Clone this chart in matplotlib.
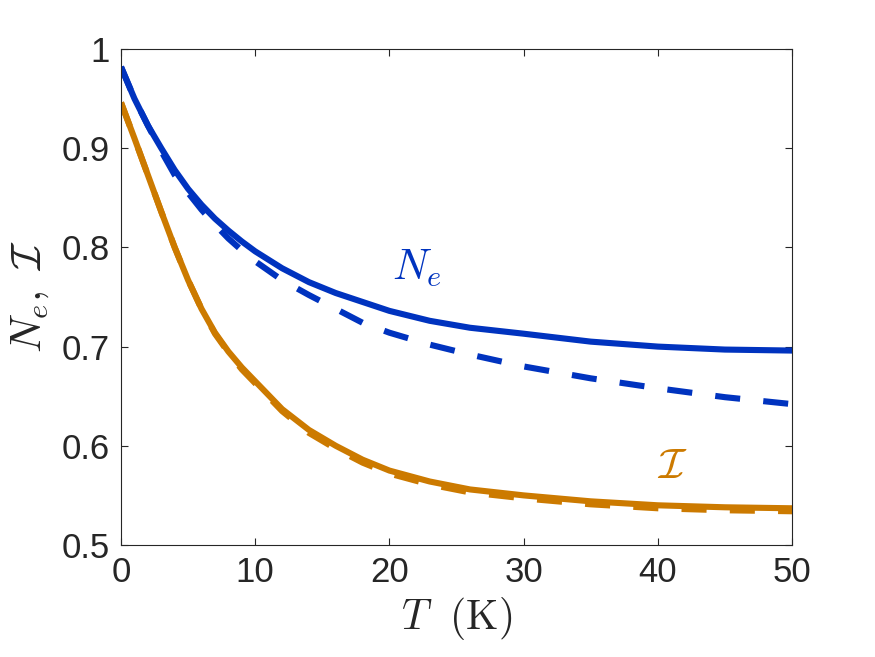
import matplotlib
matplotlib.use("Agg")
import matplotlib.pyplot as plt

# ---- data ----
T = [0, 1, 2, 3, 4, 5, 6, 7, 8, 9, 10, 12, 14, 16, 18, 20, 23, 26, 30, 35, 40, 45, 50]

Ne_solid = [0.982, 0.950, 0.923, 0.900, 0.878, 0.859, 0.843, 0.829, 0.817, 0.806, 0.796,
            0.779, 0.765, 0.754, 0.745, 0.736, 0.726, 0.719, 0.713, 0.705, 0.700, 0.697, 0.696]
Ne_dashed = [0.982, 0.950, 0.923, 0.897, 0.873, 0.855, 0.838, 0.823, 0.809, 0.797, 0.786,
             0.767, 0.752, 0.738, 0.724, 0.714, 0.702, 0.692, 0.680, 0.668, 0.658, 0.649, 0.642]
I_solid = [0.946, 0.910, 0.873, 0.836, 0.800, 0.767, 0.738, 0.714, 0.695, 0.679, 0.665,
           0.637, 0.616, 0.600, 0.586, 0.575, 0.564, 0.556, 0.550, 0.544, 0.540, 0.538, 0.537]
I_dashed = [0.946, 0.910, 0.873, 0.836, 0.800, 0.767, 0.738, 0.713, 0.694, 0.677, 0.663,
            0.635, 0.613, 0.597, 0.583, 0.572, 0.561, 0.553, 0.547, 0.541, 0.537, 0.535, 0.534]

xticks = [0, 10, 20, 30, 40, 50]
yticks = [0.5, 0.6, 0.7, 0.8, 0.9, 1.0]
yticklabels = ["0.5", "0.6", "0.7", "0.8", "0.9", "1"]

blue = "#0033BF"
orange = "#CC7A00"
grey = "#262626"

plt.rcParams["mathtext.fontset"] = "cm"
plt.rcParams["font.family"] = ["Liberation Sans", "DejaVu Sans"]

fig = plt.figure(figsize=(8.75, 6.57), dpi=100)
ax = fig.add_axes([0.1383, 0.1705, 0.7669, 0.7549])

lw = 4.4
ax.plot(T, Ne_solid, color=blue, lw=lw, solid_capstyle="butt")
ax.plot(T, I_solid, color=orange, lw=lw, solid_capstyle="butt")
ax.plot(T, Ne_dashed, color=blue, lw=lw, linestyle=(0, (4.1, 3.8)), dash_capstyle="butt")
ax.plot(T, I_dashed, color=orange, lw=lw, linestyle=(0, (4.1, 3.8)), dash_capstyle="butt")

ax.set_xlim(0, 50)
ax.set_ylim(0.5, 1.0)
ax.set_xticks(xticks)
ax.set_xticklabels([str(v) for v in xticks])
ax.set_yticks(yticks)
ax.set_yticklabels(yticklabels)

ax.tick_params(direction="in", length=5, width=0.8, color=grey, labelcolor=grey,
               labelsize=25, top=True, right=True, pad=8)
for s in ax.spines.values():
    s.set_color(grey)
    s.set_linewidth(0.8)

ax.set_xlabel(r"$T\ \ (\mathrm{K})$", fontsize=30, color=grey, labelpad=4)
ax.set_ylabel(r"$N_e,\ \mathcal{I}$", fontsize=31, color=grey, labelpad=8)

ax.text(20.2, 0.767, r"$N_e$", color=blue, fontsize=31, ha="left", va="baseline")
ax.text(39.9, 0.5675, r"$\mathcal{I}$", color=orange, fontsize=31, ha="left", va="baseline")

fig.savefig("out.png", dpi=100)
